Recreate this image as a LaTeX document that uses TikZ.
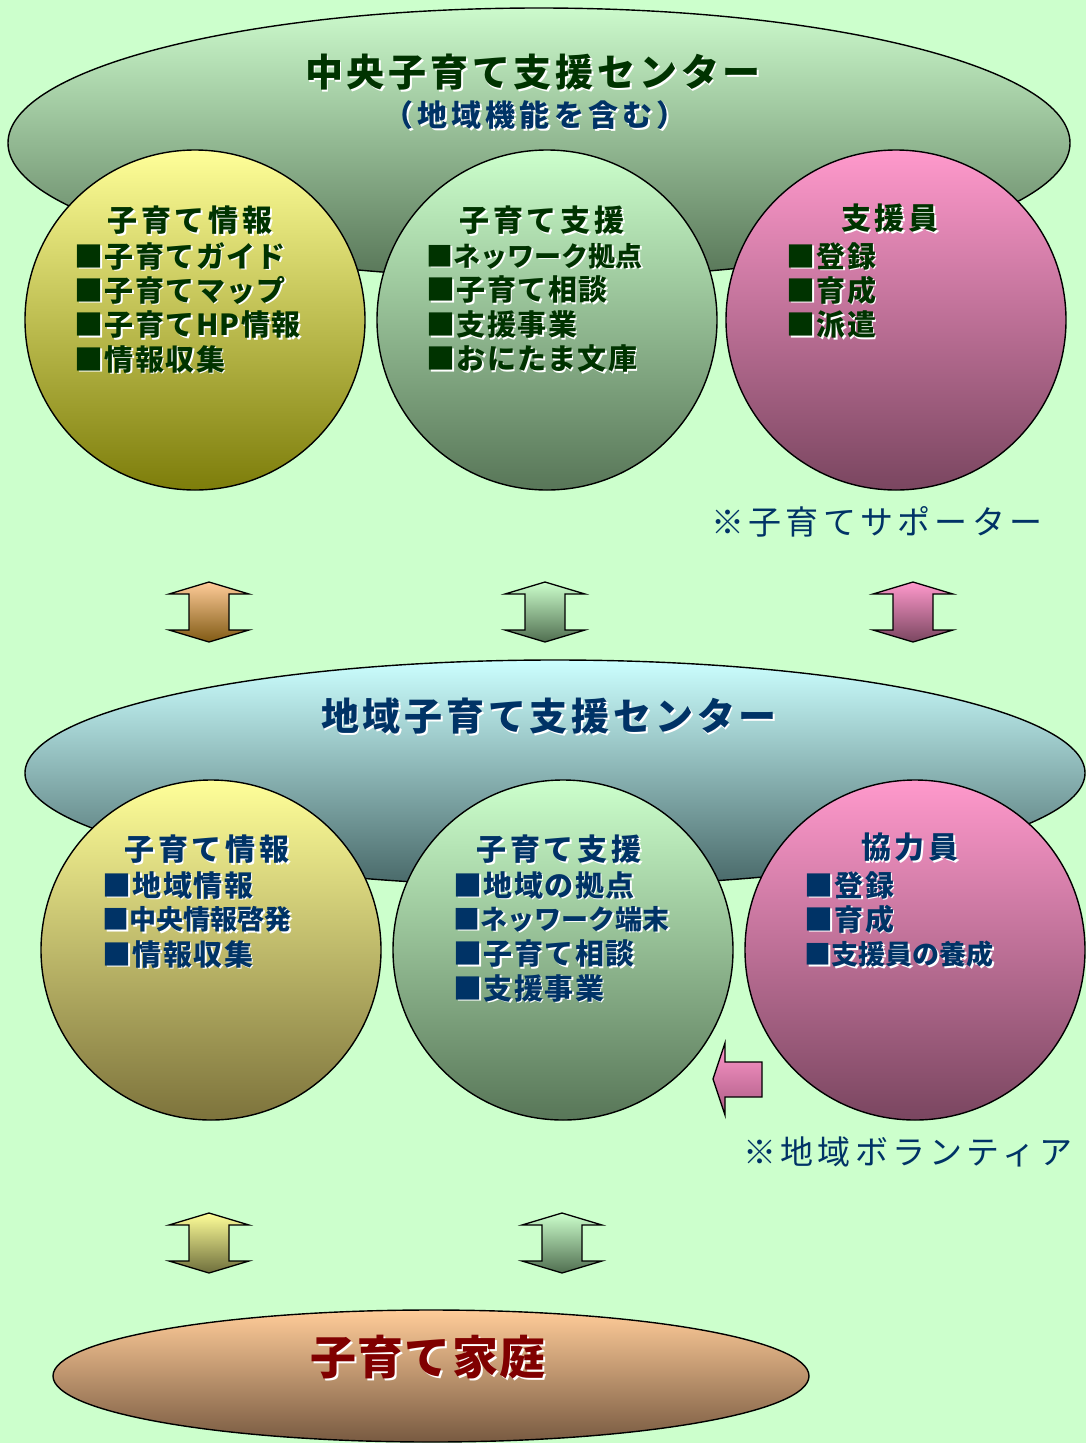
\documentclass[tikz,border=0pt]{standalone}
\usepackage{fontspec}
\usetikzlibrary{shapes.geometric}
\newfontfamily\jpT{Noto Sans CJK JP}[LetterSpace=10]
\newfontfamily\jpS{Noto Sans CJK JP}[LetterSpace=14]
\newfontfamily\jpH{Noto Sans CJK JP}[LetterSpace=13]
\newfontfamily\jpL{Noto Sans CJK JP}[LetterSpace=5]
\newfontfamily\jpN{Noto Sans CJK JP}[LetterSpace=0]
\newfontfamily\jpR{Noto Sans CJK JP}[LetterSpace=13]
\newfontfamily\jpF{Noto Sans CJK JP}[LetterSpace=3]
\definecolor{bgc}{HTML}{CCFFCC}
\definecolor{dg}{HTML}{003300}
\definecolor{db}{HTML}{003366}
\definecolor{dr}{HTML}{800000}
\newcommand\shtx[4]{%
  \node[#3,text=white,xshift=1.8pt,yshift=-1.8pt] (#1-sh) at (#2) {#4};
  \node[#3] (#1) at (#2) {#4};}
\tikzset{
  blob/.style={draw=black,line width=1.4pt,inner sep=0pt},
  circ/.style={blob,circle,minimum size=340pt},
  bigt/.style={inner sep=0pt,font=\jpT\bfseries\fontsize{38}{42}\selectfont},
  subt/.style={inner sep=0pt,font=\jpS\bfseries\fontsize{30}{34}\selectfont},
  head/.style={inner sep=0pt,font=\jpH\bfseries\fontsize{30}{34}\selectfont},
  item/.style={inner sep=0pt,anchor=west,font=\jpL\bfseries\fontsize{29}{32}\selectfont},
  itemn/.style={inner sep=0pt,anchor=west,font=\jpN\bfseries\fontsize{27}{30}\selectfont},
  note/.style={inner sep=0pt,anchor=west,text=db,font=\jpR\fontsize{33}{36}\selectfont},
  fam/.style={inner sep=0pt,text=dr,font=\jpF\bfseries\fontsize{46}{50}\selectfont},
  arr/.style={draw=black,line width=1.3pt,line join=miter},
}
\begin{document}
\begin{tikzpicture}[x=1pt,y=-1pt]
\useasboundingbox (0,0) rectangle (1086,1443);
\fill[bgc] (0,0) rectangle (1086,1443);

% ---------- top center ----------
\node[blob,ellipse,minimum width=1062pt,minimum height=270pt,top color={rgb,255:red,204;green,250;blue,204},bottom color={rgb,255:red,88;green,118;blue,88}] (topell) at (539,143) {};
\node[circ,top color={rgb,255:red,255;green,255;blue,153},bottom color={rgb,255:red,125;green,125;blue,10}] (c1) at (195,320) {};
\node[circ,top color={rgb,255:red,204;green,255;blue,204},bottom color={rgb,255:red,88;green,118;blue,88}] (c2) at (547,320) {};
\node[circ,top color={rgb,255:red,255;green,153;blue,204},bottom color={rgb,255:red,122;green,70;blue,96}] (c3) at (896,320) {};

\shtx{t1}{533,72}{bigt,text=dg}{中央子育て支援センター}
\shtx{t2}{535,115}{subt,text=db}{（地域機能を含む）}

\shtx{h1}{190,220}{head,text=dg}{子育て情報}
\shtx{a1}{74,256}{item,text=dg}{■子育てガイド}
\shtx{a2}{74,290}{item,text=dg}{■子育てマップ}
\shtx{a3}{74,325}{item,text=dg}{■子育てHP情報}
\shtx{a4}{74,359}{item,text=dg}{■情報収集}

\shtx{h2}{542,220}{head,text=dg}{子育て支援}
\shtx{b1}{426,256}{itemn,text=dg}{■ネッワーク拠点}
\shtx{b2}{426,290}{item,text=dg}{■子育て相談}
\shtx{b3}{426,325}{item,text=dg}{■支援事業}
\shtx{b4}{426,359}{item,text=dg}{■おにたま文庫}

\shtx{h3}{890,218}{head,text=dg}{支援員}
\shtx{d1}{786,256}{item,text=dg}{■登録}
\shtx{d2}{786,290}{item,text=dg}{■育成}
\shtx{d3}{786,325}{item,text=dg}{■派遣}

\node[note] (n1) at (711,522) {※子育てサポーター};

% ---------- arrows top -> middle ----------
\foreach \cx/\tc/\bc [count=\i] in {209/{rgb,255:red,255;green,204;blue,153}/{rgb,255:red,128;green,90;blue,20},
                     545/{rgb,255:red,204;green,255;blue,204}/{rgb,255:red,80;green,110;blue,80},
                     913/{rgb,255:red,255;green,153;blue,204}/{rgb,255:red,122;green,70;blue,96}}{
  \draw[arr,top color=\tc,bottom color=\bc] (\cx,582) -- (\cx+40,594) -- (\cx+20,594) -- (\cx+20,630) -- (\cx+40,630)
     -- (\cx,642) -- (\cx-40,630) -- (\cx-20,630) -- (\cx-20,594) -- (\cx-40,594) -- cycle;
}

% ---------- middle center ----------
\node[blob,ellipse,minimum width=1060pt,minimum height=226pt,top color={rgb,255:red,204;green,255;blue,255},bottom color={rgb,255:red,72;green,104;blue,104}] (midell) at (555,773) {};
\node[circ,top color={rgb,255:red,255;green,255;blue,153},bottom color={rgb,255:red,125;green,115;blue,60}] (e1) at (211,950) {};
\node[circ,top color={rgb,255:red,204;green,255;blue,204},bottom color={rgb,255:red,88;green,118;blue,88}] (e2) at (563,950) {};
\node[circ,top color={rgb,255:red,255;green,153;blue,204},bottom color={rgb,255:red,122;green,70;blue,96}] (e3) at (915,950) {};

\shtx{t3}{549,716}{bigt,text=db}{地域子育て支援センター}

\shtx{h4}{207,849}{head,text=db}{子育て情報}
\shtx{f1}{102,885}{item,text=db}{■地域情報}
\shtx{f2}{102,919}{itemn,text=db}{■中央情報啓発}
\shtx{f3}{102,954}{item,text=db}{■情報収集}

\shtx{h5}{559,849}{head,text=db}{子育て支援}
\shtx{g1}{453,885}{item,text=db}{■地域の拠点}
\shtx{g2}{453,919}{itemn,text=db}{■ネッワーク端末}
\shtx{g3}{453,954}{item,text=db}{■子育て相談}
\shtx{g4}{453,988}{item,text=db}{■支援事業}

\shtx{h6}{910,847}{head,text=db}{協力員}
\shtx{k1}{804,885}{item,text=db}{■登録}
\shtx{k2}{804,919}{item,text=db}{■育成}
\shtx{k3}{804,954}{itemn,text=db}{■支援員の養成}

% left arrow
\draw[arr,top color={rgb,255:red,255;green,153;blue,204},bottom color={rgb,255:red,170;green,90;blue,130}]
  (713,1079) -- (725,1043) -- (725,1062) -- (762,1062) -- (762,1097) -- (725,1097) -- (725,1115) -- cycle;

\node[note] (n2) at (743,1152) {※地域ボランティア};

% ---------- arrows middle -> bottom ----------
\foreach \cx/\tc/\bc in {209/{rgb,255:red,255;green,255;blue,153}/{rgb,255:red,110;green,110;blue,60},
                        562/{rgb,255:red,204;green,255;blue,204}/{rgb,255:red,80;green,110;blue,80}}{
  \draw[arr,top color=\tc,bottom color=\bc] (\cx,1213) -- (\cx+40,1225) -- (\cx+20,1225) -- (\cx+20,1261) -- (\cx+40,1261)
     -- (\cx,1273) -- (\cx-40,1261) -- (\cx-20,1261) -- (\cx-20,1225) -- (\cx-40,1225) -- cycle;
}

% ---------- bottom ----------
\node[blob,ellipse,minimum width=756pt,minimum height=132pt,top color={rgb,255:red,255;green,204;blue,153},bottom color={rgb,255:red,120;green,90;blue,65}] (home) at (431,1376) {};
\shtx{t4}{428,1357}{fam}{子育て家庭}
\end{tikzpicture}
\end{document}
